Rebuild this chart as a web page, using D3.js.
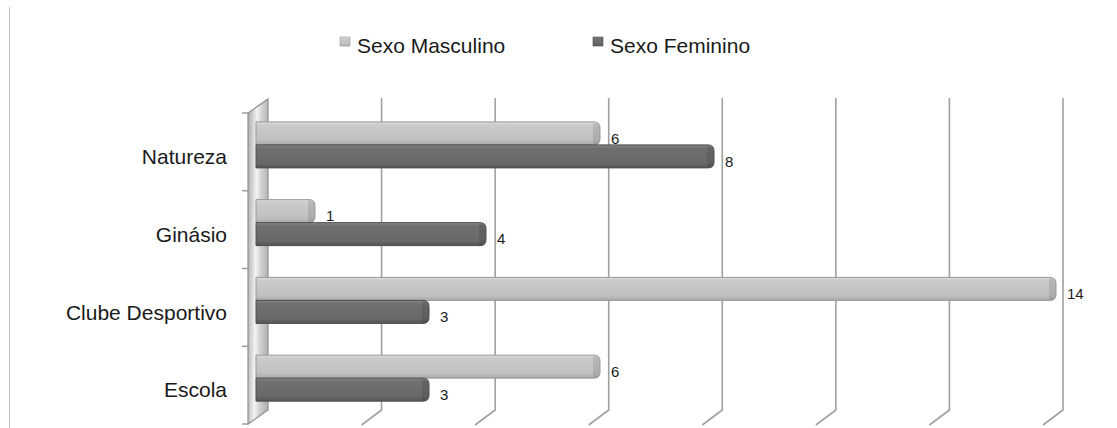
<!DOCTYPE html>
<html><head><meta charset="utf-8">
<script src="https://cdn.jsdelivr.net/npm/d3@7"></script>
<style>
  body { margin: 0; background: #fff; }
  svg { display: block; font-family: "Liberation Sans", Arial, sans-serif; }
</style>
</head><body>
<svg id="chart" width="1117" height="428"></svg>
<script>
// Data
const categories = ["Natureza", "Ginásio", "Clube Desportivo", "Escola"];
const seriesNames = ["Sexo Masculino", "Sexo Feminino"];
const masculino = [6, 1, 14, 6];
const feminino = [8, 4, 3, 3];
const tickValues = [0, 2, 4, 6, 8, 10, 12, 14];

const svg = d3.select("#chart");
const defs = svg.append("defs");

// 3D frame geometry: back plane and depth vector towards the viewer
const back = { left: 268, top: 98, bottom: 410 };
const depth = { dx: -20, dy: 14 };
const front = { left: back.left + depth.dx, top: back.top + depth.dy + 1, bottom: back.bottom + depth.dy };

const xBack = d3.scaleLinear().domain([0, 14]).range([back.left, 1063]);
const xBar = d3.scaleLinear().domain([0, 14]).range([258, 1056]);
const y = d3.scaleBand().domain(categories).range([front.top, front.bottom]);
const barH = 23, barShift = -7, barStart = 256;

// Gradients
function vGrad(id, stops) {
  const g = defs.append("linearGradient").attr("id", id)
    .attr("x1", 0).attr("y1", 0).attr("x2", 0).attr("y2", 1);
  stops.forEach(([o, c]) => g.append("stop").attr("offset", o).attr("stop-color", c));
}
vGrad("gLight", [[0, "#d9d9d9"], [0.15, "#cbcbcb"], [0.8, "#bfbfbf"], [1, "#a9a9a9"]]);
vGrad("gDark", [[0, "#858585"], [0.15, "#707070"], [0.8, "#686868"], [1, "#545454"]]);
const wg = defs.append("linearGradient").attr("id", "gWall")
  .attr("x1", 0).attr("y1", 0).attr("x2", 1).attr("y2", 0.15);
[[0, "#a8a8a8"], [0.45, "#f4f4f4"], [0.7, "#d0d0d0"], [1, "#b8b8b8"]]
  .forEach(([o, c]) => wg.append("stop").attr("offset", o).attr("stop-color", c));

// Outer frame edge
svg.append("line").attr("x1", 9.5).attr("x2", 9.5).attr("y1", 7).attr("y2", 428)
  .attr("stroke", "#c4c4c4").attr("stroke-width", 1);

// Back-wall gridlines with their floor diagonals
const grid = svg.append("g").attr("stroke", "#a0a0a0").attr("stroke-width", 1.6).attr("fill", "none");
tickValues.slice(1).forEach(v => {
  const x = xBack(v);
  grid.append("path")
    .attr("d", `M${x},${back.top} V${back.bottom} l${depth.dx},${depth.dy + 1}`);
});

// Left side wall
svg.append("path")
  .attr("d", `M${back.left},${back.top + 1} V${back.bottom} L${front.left},${front.bottom} V${front.top} Z`)
  .attr("fill", "url(#gWall)").attr("stroke", "#8f8f8f").attr("stroke-width", 1.2);

// Category ticks on the front edge of the wall
const tickYs = categories.map(c => y(c)).concat([front.bottom]);
svg.append("g").attr("stroke", "#999").attr("stroke-width", 1.4)
  .selectAll("line").data(tickYs).join("line")
  .attr("x1", front.left - 6).attr("x2", front.left).attr("y1", d => d).attr("y2", d => d);

// Category labels
svg.append("g").selectAll("text").data(categories).join("text")
  .attr("x", 227).attr("y", d => y(d) + y.bandwidth() / 2 + 5)
  .attr("dy", "0.35em").attr("text-anchor", "end")
  .attr("font-size", 21).attr("fill", "#1a1a1a").text(d => d);

// Bars
function barPath(x0, x1, y0, h) {
  const r = 6;
  return `M${x0},${y0} H${x1 - r} Q${x1},${y0} ${x1},${y0 + r} V${y0 + h - r} Q${x1},${y0 + h} ${x1 - r},${y0 + h} H${x0} Z`;
}
const series = [
  { name: seriesNames[0], values: masculino, fill: "url(#gLight)", stroke: "#999", offset: -barH },
  { name: seriesNames[1], values: feminino, fill: "url(#gDark)", stroke: "#4e4e4e", offset: 0 }
];
series.forEach(s => {
  const g = svg.append("g");
  categories.forEach((c, i) => {
    const yc = y(c) + y.bandwidth() / 2 + barShift;
    const y0 = yc + s.offset;
    const x1 = xBar(s.values[i]);
    g.append("path").attr("d", barPath(barStart, x1, y0, barH))
      .attr("fill", s.fill).attr("stroke", s.stroke).attr("stroke-width", 1);
    // shaded rounded end cap
    g.append("path").attr("d", `M${x1 - 7},${y0 + 1} H${x1 - 5} Q${x1 - 0.5},${y0 + 1} ${x1 - 0.5},${y0 + 6} V${y0 + barH - 6} Q${x1 - 0.5},${y0 + barH - 1} ${x1 - 5},${y0 + barH - 1} H${x1 - 7} Z`)
      .attr("fill", "#000").attr("opacity", 0.1);
    g.append("text")
      .attr("x", x1 + 11).attr("y", y0 + barH / 2 + 5).attr("dy", "0.35em")
      .attr("font-size", 15).attr("fill", "#1a1a1a").text(s.values[i]);
  });
});

// Legend
const legend = svg.append("g");
const legendX = [340, 593];
series.forEach((s, i) => {
  legend.append("rect").attr("x", legendX[i]).attr("y", 37).attr("width", 10).attr("height", 9)
    .attr("fill", s.fill).attr("stroke", s.stroke).attr("stroke-width", 0.6);
  legend.append("text").attr("x", legendX[i] + 17).attr("y", 53)
    .attr("font-size", 21).attr("fill", "#1a1a1a").text(s.name);
});
</script>
</body></html>
